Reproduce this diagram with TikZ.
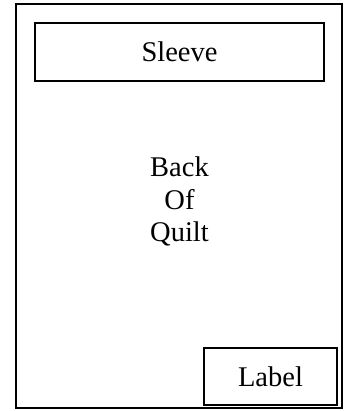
\documentclass[tikz,border=0pt]{standalone}
\usepackage{fontspec}
\setmainfont{Liberation Serif}
\usepackage{tikz}
\usetikzlibrary{positioning}

\begin{document}
\begin{tikzpicture}[x=1pt, y=-1pt, font=\fontsize{28.5}{32.8}\selectfont]
    \def\W{349}
    \def\H{411}
    \useasboundingbox (0,0) rectangle (\W,\H);

    % Quilt outline
    \coordinate (Q1) at (16,4);
    \coordinate (Q2) at (342,408);
    \draw[line width=2pt] (Q1) rectangle (Q2);

    % Sleeve along the top edge
    \node[draw, line width=1.5pt, inner sep=0pt, minimum width=289pt, minimum height=58pt] (sleeve) at (179.5,52) {Sleeve};

    % Text in the middle
    \node[align=center, inner sep=0pt] (back) at (179.5,201.5) {Back\\Of\\Quilt};

    % Label in the lower right corner
    \node[draw, line width=1.5pt, inner sep=0pt, minimum width=133pt, minimum height=57pt] (label) at (270.5,376.5) {Label};
\end{tikzpicture}
\end{document}
